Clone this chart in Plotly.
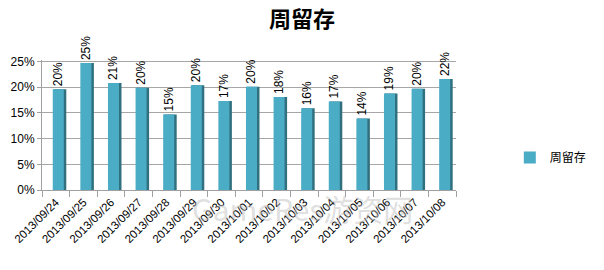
import plotly.graph_objects as go

categories = ["2013/09/24", "2013/09/25", "2013/09/26", "2013/09/27", "2013/09/28",
              "2013/09/29", "2013/09/30", "2013/10/01", "2013/10/02", "2013/10/03",
              "2013/10/04", "2013/10/05", "2013/10/06", "2013/10/07", "2013/10/08"]
retention = [19.6, 24.7, 20.8, 19.9, 14.7, 20.4, 17.3, 20.1, 18.1, 15.9, 17.2, 13.9, 18.8, 19.7, 21.6]
labels = ["20%", "25%", "21%", "20%", "15%", "20%", "17%", "20%", "18%", "16%",
          "17%", "14%", "19%", "20%", "22%"]
y_ticks = [0, 5, 10, 15, 20, 25]
y_tick_text = ["0%", "5%", "10%", "15%", "20%", "25%"]

font = "Liberation Sans, Arial, sans-serif"

fig = go.Figure()
# side (shadow) face for a 3D look
fig.add_trace(go.Bar(
    x=categories, y=retention, width=0.46, offset=-0.08,
    marker=dict(color="#31707F", line=dict(width=0)),
    showlegend=False, hoverinfo="skip",
))
fig.add_trace(go.Bar(
    x=categories, y=retention, width=0.40, offset=-0.11,
    name="周留存", text=labels, textposition="outside", textangle=-90,
    constraintext="none",
    textfont=dict(family=font, size=12, color="#000000"),
    marker=dict(color="#4BACC6", line=dict(width=0)),
    cliponaxis=False,
))

fig.update_layout(
    width=604, height=270,
    margin=dict(l=42, r=100, t=60, b=80),
    paper_bgcolor="white", plot_bgcolor="white",
    barmode="overlay",
    title=dict(text="<b>周留存</b>", x=0.5, xanchor="center", y=0.93, yanchor="middle",
               font=dict(family="Noto Sans CJK SC", size=22, color="#000000")),
    font=dict(family=font, size=11, color="#000000"),
    legend=dict(x=1.13, xanchor="left", y=0.25, yanchor="middle",
                font=dict(family="Noto Sans CJK SC", size=12, color="#000000"),
                itemwidth=30),
    xaxis=dict(tickangle=-45, showgrid=False, showline=True, linecolor="#A0A0A0",
               ticks="outside", tickson="boundaries", ticklen=6, tickcolor="#A0A0A0",
               tickfont=dict(family=font, size=11.5, color="#000000")),
    yaxis=dict(range=[0, 25.3], tickvals=y_ticks, ticktext=y_tick_text,
               showgrid=True, gridcolor="#A6A6A6", gridwidth=1,
               showline=True, linecolor="#A0A0A0", ticks="outside", ticklen=4,
               tickcolor="#A0A0A0", zeroline=False,
               tickfont=dict(family=font, size=12, color="#000000")),
)

fig.add_annotation(text="GameRes游资网", xref="paper", yref="paper", x=0.9, y=-0.32,
                   showarrow=False, font=dict(family="Noto Sans CJK SC", size=30, color="rgba(185,185,185,0.45)"))

fig.write_html("out.html")
